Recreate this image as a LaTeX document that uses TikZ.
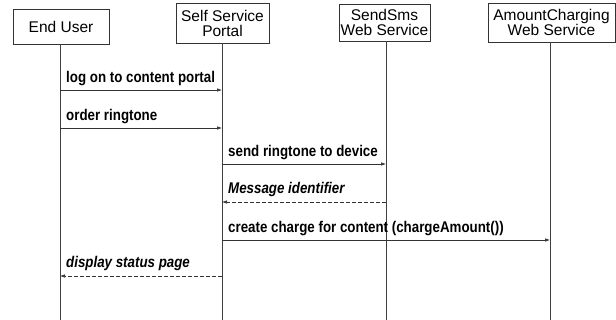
\documentclass[tikz,border=0pt]{standalone}
\usepackage{fontspec}
\setmainfont{Liberation Sans}
\newfontfamily\msgfont[FakeStretch=0.86]{Liberation Sans}
\usetikzlibrary{arrows.meta,calc}
\begin{document}
\begin{tikzpicture}[x=1pt,y=-1pt,
  actor/.style={draw=black!80,line width=0.6pt,fill=white,inner sep=1pt,
    align=center,font=\fontsize{15.5}{15}\selectfont},
  lifeline/.style={draw=black!75,line width=0.7pt},
  msg/.style={draw=black!80,line width=0.6pt,-{Latex[length=5pt,width=3.5pt]}},
  reply/.style={msg,dash pattern=on 4pt off 2pt},
  msglabel/.style={anchor=base west,inner sep=0pt,
    font=\msgfont\bfseries\fontsize{15.5}{16}\selectfont},
  replylabel/.style={msglabel,font=\msgfont\bfseries\itshape\fontsize{15.5}{16}\selectfont}]
  \useasboundingbox (0,0) rectangle (616,320);

  % participants
  \node[actor,minimum width=96pt,minimum height=35pt] (eu) at (61,26.5) {End User};
  \node[actor,minimum width=93pt,minimum height=40pt] (ssp) at (222.5,23) {Self Service\\Portal};
  \node[actor,minimum width=91pt,minimum height=37pt] (sms) at (384.5,22.5) {SendSms\\Web Service};
  \node[actor,minimum width=127pt,minimum height=39pt] (amc) at (551.5,22.5) {AmountCharging\\Web Service};

  % lifeline ends
  \coordinate (euE) at (60,320);
  \coordinate (sspE) at (222,320);
  \coordinate (smsE) at (386,320);
  \coordinate (amcE) at (550,320);
  \draw[lifeline] (euE |- eu.south) -- (euE);
  \draw[lifeline] (sspE |- ssp.south) -- (sspE);
  \draw[lifeline] (smsE |- sms.south) -- (smsE);
  \draw[lifeline] (amcE |- amc.south) -- (amcE);

  % message rows
  \coordinate (m1) at (0,90);
  \coordinate (m2) at (0,128);
  \coordinate (m3) at (0,164);
  \coordinate (m4) at (0,202);
  \coordinate (m5) at (0,240);
  \coordinate (m6) at (0,276);

  \draw[msg] (euE |- m1) -- (sspE |- m1);
  \node[msglabel] (l1) at ($(euE |- m1)+(6,-7)$) {log on to content portal};

  \draw[msg] (euE |- m2) -- (sspE |- m2);
  \node[msglabel] (l2) at ($(euE |- m2)+(6,-7)$) {order ringtone};

  \draw[msg] (sspE |- m3) -- (smsE |- m3);
  \node[msglabel] (l3) at ($(sspE |- m3)+(6,-7)$) {send ringtone to device};

  \draw[reply] (smsE |- m4) -- (sspE |- m4);
  \node[replylabel] (l4) at ($(sspE |- m4)+(6,-8)$) {Message identifier};

  \draw[msg] (sspE |- m5) -- (amcE |- m5);
  \node[msglabel] (l5) at ($(sspE |- m5)+(6,-7)$) {create charge for content (chargeAmount())};

  \draw[reply] (sspE |- m6) -- (euE |- m6);
  \node[replylabel] (l6) at ($(euE |- m6)+(6,-8)$) {display status page};
\end{tikzpicture}
\end{document}
